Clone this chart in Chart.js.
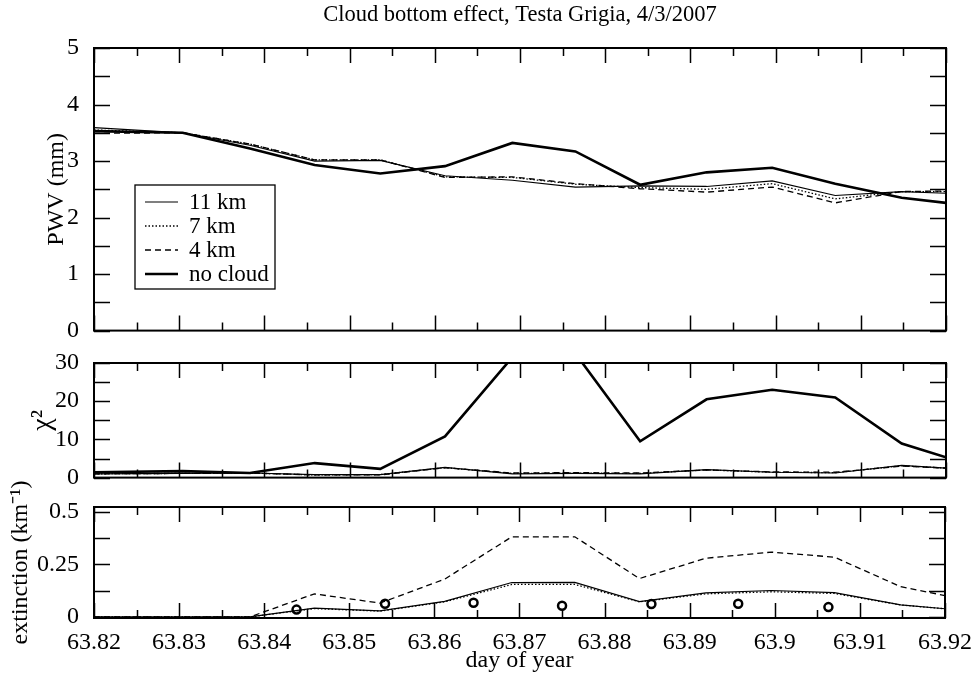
<!DOCTYPE html>
<html>
<head>
<meta charset="utf-8">
<script src="https://cdn.jsdelivr.net/npm/chart.js@4"></script>
<style>
  body { margin: 0; background: #fff; }
  canvas { position: absolute; left: 0; }
</style>
</head>
<body>
<canvas id="pwvChart" width="974" height="352" style="top:0px"></canvas>
<canvas id="chiChart" width="974" height="159" style="top:340px"></canvas>
<canvas id="extChart" width="974" height="217" style="top:460px"></canvas>
<script>
// day of year of each retrieval
const dayOfYear = [63.82, 63.8304, 63.8383, 63.8459, 63.8536, 63.8612, 63.8691, 63.8765, 63.8841, 63.8919, 63.8996, 63.9070, 63.9148, 63.92];

// PWV (mm)
const pwv11 = [3.59, 3.50, 3.28, 3.00, 3.01, 2.74, 2.66, 2.54, 2.56, 2.55, 2.65, 2.39, 2.46, 2.43];
const pwv7  = [3.55, 3.50, 3.30, 3.02, 3.02, 2.72, 2.71, 2.59, 2.53, 2.50, 2.60, 2.33, 2.46, 2.46];
const pwv4  = [3.49, 3.50, 3.30, 3.02, 3.02, 2.71, 2.72, 2.60, 2.51, 2.45, 2.54, 2.26, 2.46, 2.47];
const pwvNoCloud = [3.53, 3.50, 3.22, 2.93, 2.78, 2.91, 3.32, 3.17, 2.58, 2.80, 2.88, 2.60, 2.35, 2.26];

// chi square
const chi11 = [1.0, 1.1, 1.2, 0.8, 0.8, 2.7, 1.0, 1.1, 1.0, 2.1, 1.4, 1.2, 3.2, 2.5];
const chi7  = [1.0, 1.1, 1.2, 0.7, 0.8, 2.6, 1.1, 1.2, 1.1, 2.0, 1.4, 1.3, 3.1, 2.5];
const chi4  = [1.0, 1.1, 1.2, 0.7, 0.7, 2.6, 1.2, 1.3, 1.2, 2.0, 1.5, 1.4, 3.0, 2.5];
const chiNoCloud = [1.4, 1.7, 1.2, 3.8, 2.3, 10.8, 31.5, 32.5, 9.5, 20.5, 23.0, 21.0, 8.9, 5.3];

// extinction (km^-1)
const ext11 = [0, 0, 0, 0.042, 0.029, 0.074, 0.164, 0.165, 0.073, 0.115, 0.126, 0.116, 0.058, 0.039];
const ext7  = [0, 0, 0, 0.040, 0.028, 0.072, 0.155, 0.155, 0.072, 0.110, 0.120, 0.112, 0.057, 0.039];
const ext4  = [0, 0, 0, 0.110, 0.066, 0.180, 0.382, 0.382, 0.183, 0.280, 0.309, 0.285, 0.144, 0.102];

// measured extinction (circles)
const obsDay = [63.8438, 63.8542, 63.8646, 63.8750, 63.8855, 63.8957, 63.9063];
const obsExt = [0.035, 0.063, 0.068, 0.053, 0.062, 0.063, 0.047];

const xMin = 63.82, xMax = 63.92;

Chart.defaults.font.family = "'Liberation Serif', 'Times New Roman', serif";
Chart.defaults.font.size = 24;
Chart.defaults.color = '#000';

const styles = {
  '11 km':    { borderWidth: 1.2, borderDash: [] },
  '7 km':     { borderWidth: 1.3, borderDash: [1.5, 2] },
  '4 km':     { borderWidth: 1.3, borderDash: [6, 4] },
  'no cloud': { borderWidth: 2.6, borderDash: [] }
};

const pts = (xs, ys) => xs.map((x, i) => ({ x: x, y: ys[i] }));

function line(label, ys) {
  return Object.assign({
    label: label,
    data: pts(dayOfYear, ys),
    borderColor: '#000',
    backgroundColor: '#000',
    pointRadius: 0,
    tension: 0,
    fill: false
  }, styles[label]);
}

// box + inward ticks on all four sides
function frame(yMin, yMax, yStep) {
  return {
    id: 'frame',
    afterDatasetsDraw(chart) {
      const { ctx, chartArea: a, scales } = chart;
      ctx.save();
      ctx.strokeStyle = '#000';
      ctx.lineWidth = 1.5;
      ctx.beginPath();
      for (let i = 0; i <= 20; i++) {
        const px = Math.round(scales.x.getPixelForValue(xMin + i * 0.005)) + 0.5;
        const len = i % 2 === 0 ? 15 : 8;
        ctx.moveTo(px, a.bottom); ctx.lineTo(px, a.bottom - len);
        ctx.moveTo(px, a.top); ctx.lineTo(px, a.top + len);
      }
      const n = Math.round((yMax - yMin) / yStep);
      for (let i = 0; i <= n; i++) {
        const py = Math.round(scales.y.getPixelForValue(yMin + i * yStep)) + 0.5;
        ctx.moveTo(a.left, py); ctx.lineTo(a.left + 16, py);
        ctx.moveTo(a.right, py); ctx.lineTo(a.right - 16, py);
      }
      ctx.stroke();
      ctx.lineWidth = 2;
      ctx.strokeRect(a.left, a.top, a.right - a.left, a.bottom - a.top);
      ctx.restore();
    }
  };
}

const boxLegend = {
  id: 'boxLegend',
  afterDatasetsDraw(chart) {
    const { ctx, chartArea: a } = chart;
    const x0 = a.left + 41, y0 = a.top + 137;
    ctx.save();
    ctx.fillStyle = '#fff';
    ctx.fillRect(x0, y0, 140, 104);
    ctx.strokeStyle = '#000';
    ctx.lineWidth = 1.3;
    ctx.strokeRect(x0, y0, 140, 104);
    ctx.font = "23px 'Liberation Serif'";
    ctx.textBaseline = 'middle';
    ctx.fillStyle = '#000';
    chart.data.datasets.forEach((ds, i) => {
      const y = y0 + 17 + i * 24;
      ctx.lineWidth = ds.borderWidth;
      ctx.setLineDash(ds.borderDash);
      ctx.beginPath();
      ctx.moveTo(x0 + 10, y);
      ctx.lineTo(x0 + 43, y);
      ctx.stroke();
      ctx.setLineDash([]);
      ctx.fillText(ds.label, x0 + 54, y + 1);
    });
    ctx.restore();
  }
};

const fmtX = v => String(parseFloat(v.toFixed(2)));

function xScale(show) {
  return {
    type: 'linear',
    min: xMin,
    max: xMax,
    display: show,
    grid: { display: false },
    border: { display: false },
    ticks: {
      stepSize: 0.01,
      autoSkip: false,
      maxRotation: 0,
      padding: 2,
      includeBounds: false,
      callback: v => fmtX(v)
    },
    title: { display: show, text: 'day of year', padding: { top: 0, bottom: 2 } },
    afterFit: s => { if (show) s.height = 59; }
  };
}

function yScale(min, max, step, title, titlePad, titleSize, fmt) {
  return {
    min: min,
    max: max,
    grid: { display: false },
    border: { display: false },
    ticks: { stepSize: step, padding: 7, includeBounds: false, callback: fmt || (v => v) },
    title: { display: true, text: title, font: { size: titleSize }, padding: { top: titlePad, bottom: 0 } },
    afterFit: s => { s.width = 94; }
  };
}

const baseOpts = {
  responsive: false,
  animation: false,
  events: [],
  plugins: { legend: { display: false }, tooltip: { enabled: false } }
};

new Chart(document.getElementById('pwvChart'), {
  type: 'line',
  data: {
    datasets: [line('11 km', pwv11), line('7 km', pwv7), line('4 km', pwv4), line('no cloud', pwvNoCloud)]
  },
  options: Object.assign({}, baseOpts, {
    layout: { padding: { left: 0, right: 28, top: 0, bottom: 0 } },
    plugins: {
      legend: { display: false },
      tooltip: { enabled: false },
      title: {
        display: true,
        text: 'Cloud bottom effect, Testa Grigia, 4/3/2007',
        fullSize: false,
        font: { size: 22.5, weight: 'normal' },
        padding: { top: 2, bottom: 19 }
      }
    },
    scales: {
      x: xScale(false),
      y: yScale(0, 5, 1, 'PWV (mm)', 42, 24)
    }
  }),
  plugins: [frame(0, 5, 0.5), boxLegend]
});

new Chart(document.getElementById('chiChart'), {
  type: 'line',
  data: {
    datasets: [line('11 km', chi11), line('7 km', chi7), line('4 km', chi4), line('no cloud', chiNoCloud)]
  },
  options: Object.assign({}, baseOpts, {
    layout: { padding: { left: 0, right: 28, top: 23, bottom: 0 } },
    scales: {
      x: xScale(false),
      y: yScale(0, 30, 10, 'χ²', 26, 28)
    }
  }),
  plugins: [frame(0, 30, 5)]
});

new Chart(document.getElementById('extChart'), {
  type: 'line',
  data: {
    datasets: [
      line('11 km', ext11),
      line('7 km', ext7),
      line('4 km', ext4),
      {
        label: 'measured',
        data: pts(obsDay, obsExt),
        showLine: false,
        pointStyle: 'circle',
        pointRadius: 4,
        pointBorderWidth: 2.5,
        pointBorderColor: '#000',
        pointBackgroundColor: 'rgba(0,0,0,0)'
      }
    ]
  },
  options: Object.assign({}, baseOpts, {
    layout: { padding: { left: 0, right: 28, top: 47, bottom: 0 } },
    scales: {
      x: xScale(true),
      y: yScale(-0.005, 0.524, 0.25, 'extinction (km⁻¹)', 6, 24, v => String(v))
    }
  }),
  plugins: [frame(0, 0.5, 0.125)]
});
</script>
</body>
</html>
